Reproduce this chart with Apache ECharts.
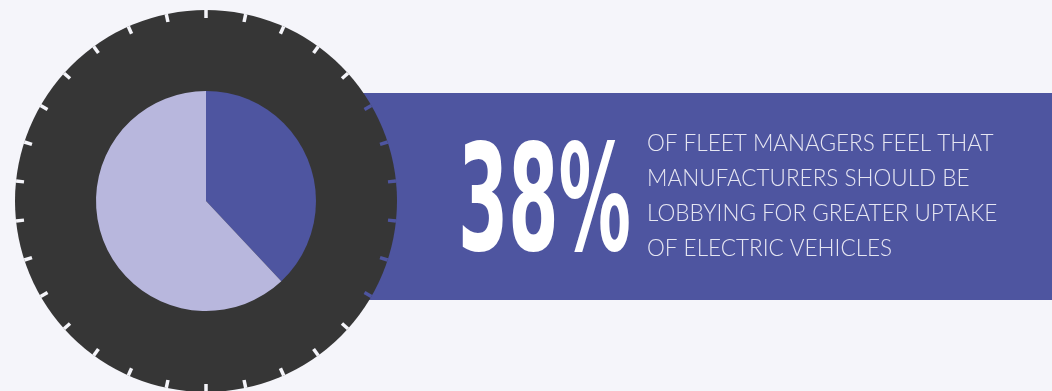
<!DOCTYPE html>
<html><head><meta charset="utf-8">
<script src="https://cdn.jsdelivr.net/npm/echarts@6/dist/echarts.min.js"></script>
<style>html,body{margin:0;padding:0;background:#f5f5fa;}#c{width:1052px;height:391px;}</style>
</head><body><div id="c"></div>
<script>
const categories = ['Feel manufacturers should lobby', 'Other'];
const values = [38, 62];
const headline = values[0] + '%';
const captionLines = ['OF FLEET MANAGERS FEEL THAT', 'MANUFACTURERS SHOULD BE', 'LOBBYING FOR GREATER UPTAKE', 'OF ELECTRIC VEHICLES'];

const BG = '#f5f5fa', BLUE = '#4e55a0', LIGHT = '#b8b7dd', TIRE = '#363636';
const chart = echarts.init(document.getElementById('c'));
const cx = 206, cy = 201;
const tickGauge = (start, end, n, color, z) => ({
  type: 'gauge', silent: true, center: [cx, cy], radius: 191, startAngle: start, endAngle: end, min: 0, max: n, splitNumber: n,
  axisLine: { show: false, lineStyle: { width: 0 } }, axisTick: { show: false }, axisLabel: { show: false },
  pointer: { show: false }, detail: { show: false }, title: { show: false }, anchor: { show: false }, progress: { show: false },
  splitLine: { show: true, length: 8, distance: 0, lineStyle: { color: color, width: 3.5 } }, z: z
});
chart.setOption({
  backgroundColor: BG,
  animation: false,
  graphic: [
    { type: 'rect', z: 0, shape: { x: 355, y: 93, width: 700, height: 207 }, style: { fill: BLUE } },
    { type: 'text', z: 10, x: 458, y: 212, scaleX: 0.543, scaleY: 1,
      style: { x: 0, y: 0, text: headline, fill: '#ffffff', font: 'bold 148px "Liberation Sans Narrow", "DejaVu Sans Condensed", sans-serif', align: 'left', verticalAlign: 'middle' } },
    { type: 'text', z: 10, x: 647, y: 196,
      style: { x: 0, y: 0, text: captionLines.join('\n'), fill: '#e6e6f2', font: '300 22.5px Lato, sans-serif', lineHeight: 35, align: 'left', verticalAlign: 'middle' } }
  ],
  series: [
    { type: 'pie', silent: true, center: [cx, cy], radius: [0, 191], label: { show: false }, labelLine: { show: false },
      itemStyle: { color: TIRE }, data: [{ value: 1, name: 'tire' }], z: 2 },
    tickGauge(-42, -318, 23, BG, 3),
    tickGauge(30, -30, 5, BLUE, 3),
    { type: 'pie', silent: true, center: [cx, cy], radius: [0, 110], startAngle: 90, clockwise: true,
      label: { show: false }, labelLine: { show: false },
      data: categories.map((n, i) => ({ name: n, value: values[i], itemStyle: { color: i === 0 ? BLUE : LIGHT } })), z: 5 }
  ]
});
</script></body></html>
